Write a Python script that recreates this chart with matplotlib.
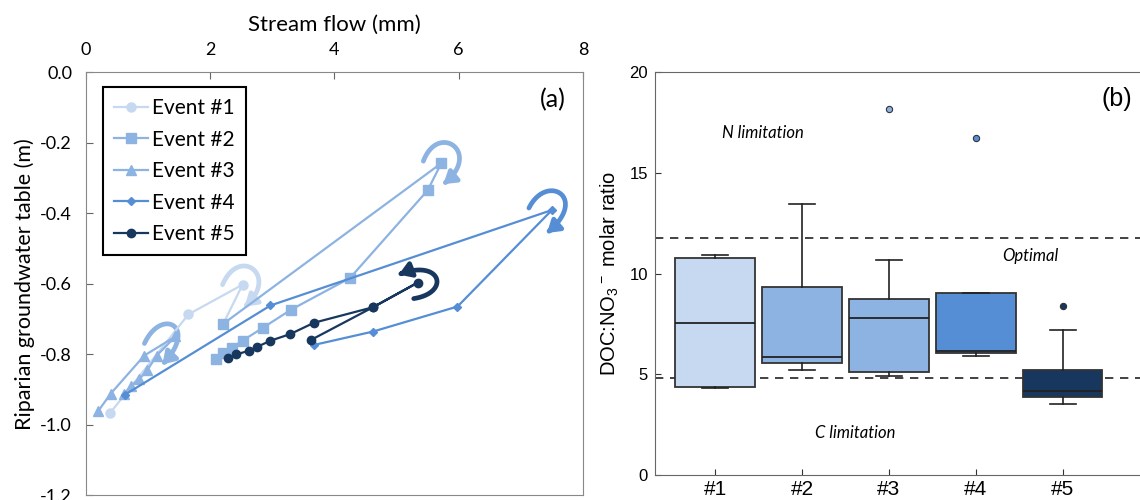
import numpy as np
import matplotlib
matplotlib.use("Agg")
import matplotlib.pyplot as plt
from matplotlib.patches import FancyArrowPatch
from matplotlib.path import Path
from matplotlib.transforms import ScaledTranslation

plt.rcParams['axes.unicode_minus'] = False
plt.rcParams['mathtext.default'] = 'regular'

DPI = 100

# === Panel (a): hysteresis loops ===
ev1_x = [0.39, 1.65, 2.52, 2.21]
ev1_y = [-0.967, -0.687, -0.603, -0.714]
ev2_x = [2.21, 5.72, 5.50, 4.25, 3.30, 2.85, 2.52, 2.35, 2.21, 2.10]
ev2_y = [-0.714, -0.258, -0.335, -0.584, -0.674, -0.725, -0.762, -0.782, -0.797, -0.814]
ev3_x = [0.20, 0.40, 0.94, 1.44, 1.14, 0.99, 0.86, 0.72, 0.62]
ev3_y = [-0.961, -0.912, -0.804, -0.750, -0.804, -0.845, -0.871, -0.890, -0.913]
ev4_x = [0.63, 2.97, 7.50, 5.98, 4.62, 3.67]
ev4_y = [-0.915, -0.662, -0.391, -0.665, -0.736, -0.774]
ev5_x = [2.28, 2.42, 2.63, 2.76, 2.97, 3.29, 3.67, 4.62, 5.34, 4.62, 3.62]
ev5_y = [-0.811, -0.801, -0.790, -0.779, -0.762, -0.743, -0.711, -0.667, -0.597, -0.667, -0.760]

event_labels = ["Event #1", "Event #2", "Event #3", "Event #4", "Event #5"]
event_colors = ["#c6d9f1", "#8db3e2", "#8db3e2", "#558ed5", "#17375e"]
event_markers = ["o", "s", "^", "D", "o"]
event_msize = [6.5, 7, 7, 4.5, 6]

# hook arrow round each peak: bezier control points, pixel offsets from the peak
hooks = [[(-20, 0), (-3, 40), (38, 8), (2, -22)],
         [(-18, 2), (-3, 42), (42, 10), (2, -21)],
         [(-31, -7), (-14, 30), (24, 10), (-13, -28)],
         [(-23, 2), (-5, 38), (38, 12), (-5, -23)],
         [(-4, -16), (34, -10), (23, 25), (-19, 8)]]

# === Panel (b): DOC:NO3- box plots ===
box_names = ["#1", "#2", "#3", "#4", "#5"]
box_q1 = [4.39, 5.55, 5.10, 6.04, 3.86]
box_med = [7.53, 5.88, 7.78, 6.18, 4.19]
box_q3 = [10.76, 9.32, 8.76, 9.06, 5.20]
box_lo = [4.30, 5.23, 4.93, 5.93, 3.54]
box_hi = [10.93, 13.46, 10.68, 9.06, 7.20]
box_fliers = [[], [], [18.21], [16.75], [8.41]]
box_colors = ["#c6d9f1", "#8db3e2", "#8db3e2", "#558ed5", "#17375e"]
limits = [11.8, 4.83]


def bezier(ctrl, n=60):
    p = np.array(ctrl, dtype=float)
    t = np.linspace(0, 1, n)[:, None]
    return ((1 - t) ** 3 * p[0] + 3 * (1 - t) ** 2 * t * p[1]
            + 3 * (1 - t) * t ** 2 * p[2] + t ** 3 * p[3])


fig = plt.figure(figsize=(11.4, 5), dpi=DPI)

# ---------- (a) ----------
ax1 = fig.add_axes([0.0754, 0.01, 0.436, 0.8454])
series = [(ev1_x, ev1_y), (ev2_x, ev2_y), (ev3_x, ev3_y), (ev4_x, ev4_y), (ev5_x, ev5_y)]
for i, (xs, ys) in enumerate(series):
    ax1.plot(xs, ys, color=event_colors[i], marker=event_markers[i], ms=event_msize[i],
             lw=1.6, label=event_labels[i], zorder=3 + i * 0.1)

for i, (xs, ys) in enumerate(series):
    k = int(np.argmax(ys))
    pts = bezier(hooks[i]) / DPI
    trans = fig.dpi_scale_trans + ScaledTranslation(xs[k], ys[k], ax1.transData)
    arr = FancyArrowPatch(path=Path(pts),
                          arrowstyle='-|>,head_length=0.5,head_width=0.32',
                          mutation_scale=14, lw=3.4, color=event_colors[i],
                          transform=trans, zorder=2)
    ax1.add_patch(arr)

yt = [-1.2, -1.0, -0.8, -0.6, -0.4, -0.2, 0.0]
ax1.set_xlim(0, 8)
ax1.set_ylim(-1.2, 0)
ax1.set_xticks([0, 2, 4, 6, 8])
ax1.set_yticks(yt)
ax1.set_yticklabels([f"{v:.1f}" for v in yt])
ax1.xaxis.tick_top()
ax1.xaxis.set_label_position('top')
ax1.tick_params(direction='in', length=5, labelsize=13, color='#666666', pad=10)
for lab in ax1.get_xticklabels() + ax1.get_yticklabels():
    lab.set_family('Lato')
ax1.set_xlabel("Stream flow (mm)", fontsize=16, family='Lato', labelpad=8)
ax1.set_ylabel("Riparian groundwater table (m)", fontsize=15.5, family='Lato', labelpad=4)
for s in ax1.spines.values():
    s.set_color('#888888')
ax1.text(0.94, 0.935, "(a)", transform=ax1.transAxes, fontsize=18, family='Lato',
         ha='center', va='center')
leg = ax1.legend(loc='upper left', bbox_to_anchor=(0.034, 0.966), fancybox=False,
                 edgecolor='black', framealpha=1, prop={'family': 'Lato', 'size': 15},
                 handlelength=1.6, handletextpad=0.2, labelspacing=0.55,
                 borderpad=0.55, borderaxespad=0)
leg.get_frame().set_linewidth(1.5)

# ---------- (b) ----------
ax2 = fig.add_axes([0.5746, 0.05, 0.4295, 0.805])
stats = []
for i in range(len(box_names)):
    stats.append(dict(q1=box_q1[i], med=box_med[i], q3=box_q3[i],
                      whislo=box_lo[i], whishi=box_hi[i], fliers=box_fliers[i]))
pos = np.arange(1, len(box_names) + 1)
bp = ax2.bxp(stats, positions=pos, widths=0.91, capwidths=0.3, patch_artist=True,
             boxprops=dict(edgecolor='#333333', lw=1.3),
             medianprops=dict(color='#222222', lw=1.3),
             whiskerprops=dict(color='#222222', lw=1.2),
             capprops=dict(color='#222222', lw=1.2))
for i, b in enumerate(bp['boxes']):
    b.set_facecolor(box_colors[i])
for i, f in enumerate(bp['fliers']):
    f.set(marker='o', ms=4.5, markerfacecolor=box_colors[i], markeredgecolor='#333333',
          markeredgewidth=0.8)

for v in limits:
    ax2.axhline(v, color='#222222', ls=(0, (5, 4)), lw=1.2, zorder=1)

ax2.set_xlim(0.31, 5.94)
ax2.set_ylim(0, 20)
ax2.set_yticks([0, 5, 10, 15, 20])
ax2.set_xticks(pos)
ax2.set_xticklabels(box_names, fontsize=15, family='Liberation Sans')
ax2.tick_params(direction='in', length=4, color='#333333')
ax2.tick_params(axis='y', labelsize=12, pad=5)
for lab in ax2.get_yticklabels():
    lab.set_family('Liberation Sans')
ax2.set_ylabel("DOC:NO$_3$$^-$ molar ratio", fontsize=14.5, family='Liberation Sans',
               labelpad=6)
for s in ax2.spines.values():
    s.set_color('#666666')

ax2.text(1.55, 17.0, "N limitation", fontsize=12, style='italic', family='Lato',
         ha='center', va='center')
ax2.text(4.62, 10.87, "Optimal", fontsize=12, style='italic', family='Lato',
         ha='center', va='center')
ax2.text(2.61, 2.10, "C limitation", fontsize=12, style='italic', family='Lato',
         ha='center', va='center')
ax2.text(0.943, 0.935, "(b)", transform=ax2.transAxes, fontsize=18,
         family='Liberation Sans', ha='center', va='center')

fig.savefig("out.png", dpi=DPI)
